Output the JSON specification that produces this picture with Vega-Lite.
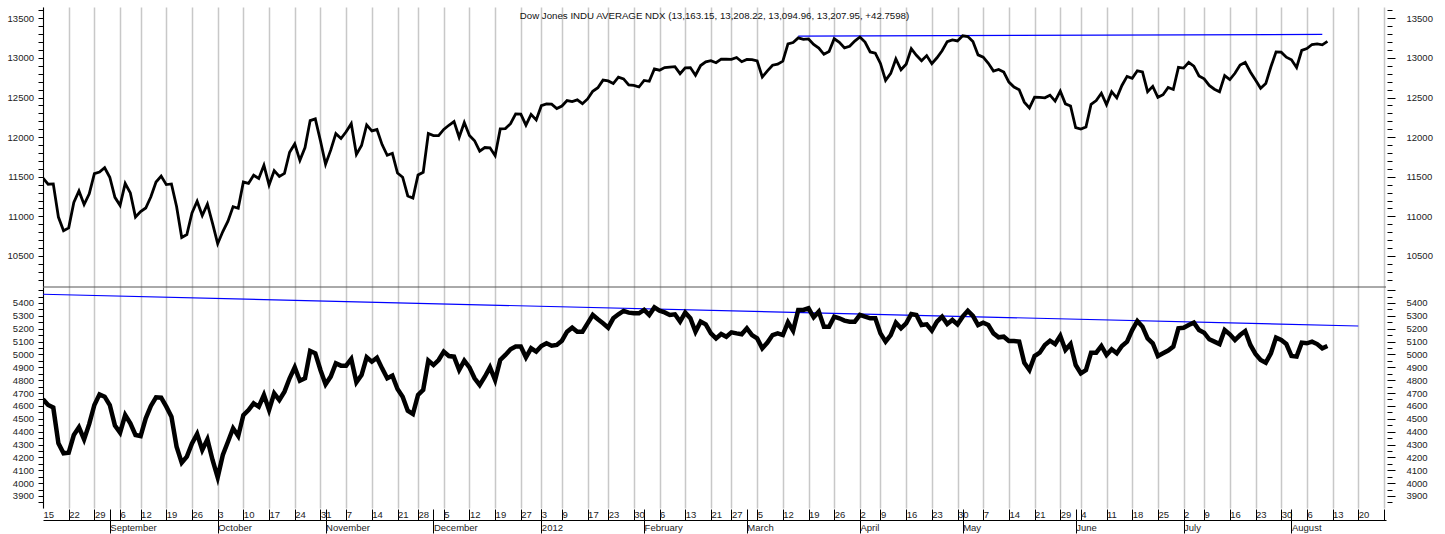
{
"$schema": "https://vega.github.io/schema/vega-lite/v6.json",
"width": 1343, "height": 501,
"autosize": {"type": "none"},
"padding": {"left": 43, "top": 7, "right": 59, "bottom": 26},
"background": "white",
"config": {"view": {"stroke": null}, "font": "Liberation Sans", "axis": {"labelFont": "Liberation Sans", "labelFontSize": 9.5, "labelColor": "#222", "tickColor": "#000", "domainColor": "#000"}},
"title": {"text": "Dow Jones INDU AVERAGE NDX (13,163.15, 13,208.22, 13,094.96, 13,207.95, +42.7598)", "font": "Liberation Sans", "fontSize": 9.7, "fontWeight": "normal", "color": "#111", "anchor": "middle", "frame": "group", "offset": -13, "baseline": "alphabetic", "dy": 10},
"datasets": {
"px": [
{"i":0,"date":"2011-08-15","dow":11483,"djt":4651},{"i":1,"date":"2011-08-16","dow":11406,"djt":4607},{"i":2,"date":"2011-08-17","dow":11410,"djt":4587},{"i":3,"date":"2011-08-18","dow":10991,"djt":4309},{"i":4,"date":"2011-08-19","dow":10818,"djt":4232},
{"i":5,"date":"2011-08-22","dow":10855,"djt":4237},{"i":6,"date":"2011-08-23","dow":11177,"djt":4374},{"i":7,"date":"2011-08-24","dow":11321,"djt":4434},{"i":8,"date":"2011-08-25","dow":11150,"djt":4340},{"i":9,"date":"2011-08-26","dow":11285,"djt":4460},
{"i":10,"date":"2011-08-29","dow":11539,"djt":4607},{"i":11,"date":"2011-08-30","dow":11560,"djt":4690},{"i":12,"date":"2011-08-31","dow":11614,"djt":4672},{"i":13,"date":"2011-09-01","dow":11494,"djt":4607},{"i":14,"date":"2011-09-02","dow":11240,"djt":4447},
{"i":15,"date":"2011-09-06","dow":11139,"djt":4392},{"i":16,"date":"2011-09-07","dow":11415,"djt":4529},{"i":17,"date":"2011-09-08","dow":11296,"djt":4465},{"i":18,"date":"2011-09-09","dow":10992,"djt":4374},
{"i":19,"date":"2011-09-12","dow":11061,"djt":4366},{"i":20,"date":"2011-09-13","dow":11106,"djt":4504},{"i":21,"date":"2011-09-14","dow":11247,"djt":4600},{"i":22,"date":"2011-09-15","dow":11433,"djt":4667},{"i":23,"date":"2011-09-16","dow":11509,"djt":4664},
{"i":24,"date":"2011-09-19","dow":11401,"djt":4594},{"i":25,"date":"2011-09-20","dow":11409,"djt":4517},{"i":26,"date":"2011-09-21","dow":11125,"djt":4283},{"i":27,"date":"2011-09-22","dow":10734,"djt":4159},{"i":28,"date":"2011-09-23","dow":10771,"djt":4206},
{"i":29,"date":"2011-09-26","dow":11044,"djt":4309},{"i":30,"date":"2011-09-27","dow":11191,"djt":4382},{"i":31,"date":"2011-09-28","dow":11011,"djt":4258},{"i":32,"date":"2011-09-29","dow":11154,"djt":4340},{"i":33,"date":"2011-09-30","dow":10913,"djt":4180},
{"i":34,"date":"2011-10-03","dow":10655,"djt":4045},{"i":35,"date":"2011-10-04","dow":10809,"djt":4219},{"i":36,"date":"2011-10-05","dow":10940,"djt":4322},{"i":37,"date":"2011-10-06","dow":11123,"djt":4426},{"i":38,"date":"2011-10-07","dow":11103,"djt":4366},
{"i":39,"date":"2011-10-10","dow":11433,"djt":4529},{"i":40,"date":"2011-10-11","dow":11416,"djt":4568},{"i":41,"date":"2011-10-12","dow":11519,"djt":4620},{"i":42,"date":"2011-10-13","dow":11478,"djt":4594},{"i":43,"date":"2011-10-14","dow":11644,"djt":4685},
{"i":44,"date":"2011-10-17","dow":11397,"djt":4568},{"i":45,"date":"2011-10-18","dow":11577,"djt":4698},{"i":46,"date":"2011-10-19","dow":11505,"djt":4646},{"i":47,"date":"2011-10-20","dow":11542,"djt":4711},{"i":48,"date":"2011-10-21","dow":11809,"djt":4815},
{"i":49,"date":"2011-10-24","dow":11914,"djt":4900},{"i":50,"date":"2011-10-25","dow":11707,"djt":4796},{"i":51,"date":"2011-10-26","dow":11869,"djt":4815},{"i":52,"date":"2011-10-27","dow":12209,"djt":5027},{"i":53,"date":"2011-10-28","dow":12231,"djt":5009},
{"i":54,"date":"2011-10-31","dow":11955,"djt":4879},{"i":55,"date":"2011-11-01","dow":11658,"djt":4768},{"i":56,"date":"2011-11-02","dow":11836,"djt":4828},{"i":57,"date":"2011-11-03","dow":12044,"djt":4931},{"i":58,"date":"2011-11-04","dow":11983,"djt":4913},
{"i":59,"date":"2011-11-07","dow":12068,"djt":4913},{"i":60,"date":"2011-11-08","dow":12170,"djt":4965},{"i":61,"date":"2011-11-09","dow":11781,"djt":4783},{"i":62,"date":"2011-11-10","dow":11894,"djt":4840},{"i":63,"date":"2011-11-11","dow":12154,"djt":4978},
{"i":64,"date":"2011-11-14","dow":12079,"djt":4944},{"i":65,"date":"2011-11-15","dow":12096,"djt":4975},{"i":66,"date":"2011-11-16","dow":11906,"djt":4892},{"i":67,"date":"2011-11-17","dow":11771,"djt":4815},{"i":68,"date":"2011-11-18","dow":11796,"djt":4835},
{"i":69,"date":"2011-11-21","dow":11547,"djt":4732},{"i":70,"date":"2011-11-22","dow":11494,"djt":4672},{"i":71,"date":"2011-11-23","dow":11258,"djt":4563},{"i":72,"date":"2011-11-25","dow":11232,"djt":4537},
{"i":73,"date":"2011-11-28","dow":11523,"djt":4685},{"i":74,"date":"2011-11-29","dow":11556,"djt":4724},{"i":75,"date":"2011-11-30","dow":12046,"djt":4952},{"i":76,"date":"2011-12-01","dow":12020,"djt":4918},{"i":77,"date":"2011-12-02","dow":12019,"djt":4957},
{"i":78,"date":"2011-12-05","dow":12098,"djt":5022},{"i":79,"date":"2011-12-06","dow":12150,"djt":4988},{"i":80,"date":"2011-12-07","dow":12196,"djt":4983},{"i":81,"date":"2011-12-08","dow":11998,"djt":4879},{"i":82,"date":"2011-12-09","dow":12184,"djt":4952},
{"i":83,"date":"2011-12-12","dow":12021,"djt":4900},{"i":84,"date":"2011-12-13","dow":11955,"djt":4815},{"i":85,"date":"2011-12-14","dow":11823,"djt":4763},{"i":86,"date":"2011-12-15","dow":11869,"djt":4827},{"i":87,"date":"2011-12-16","dow":11866,"djt":4900},
{"i":88,"date":"2011-12-19","dow":11766,"djt":4801},{"i":89,"date":"2011-12-20","dow":12104,"djt":4957},{"i":90,"date":"2011-12-21","dow":12108,"djt":4996},{"i":91,"date":"2011-12-22","dow":12170,"djt":5040},{"i":92,"date":"2011-12-23","dow":12294,"djt":5061},
{"i":93,"date":"2011-12-27","dow":12291,"djt":5061},{"i":94,"date":"2011-12-28","dow":12151,"djt":4978},{"i":95,"date":"2011-12-29","dow":12287,"djt":5048},{"i":96,"date":"2011-12-30","dow":12218,"djt":5022},
{"i":97,"date":"2012-01-03","dow":12397,"djt":5066},{"i":98,"date":"2012-01-04","dow":12418,"djt":5087},{"i":99,"date":"2012-01-05","dow":12416,"djt":5068},{"i":100,"date":"2012-01-06","dow":12360,"djt":5074},
{"i":101,"date":"2012-01-09","dow":12393,"djt":5107},{"i":102,"date":"2012-01-10","dow":12462,"djt":5177},{"i":103,"date":"2012-01-11","dow":12449,"djt":5208},{"i":104,"date":"2012-01-12","dow":12471,"djt":5177},{"i":105,"date":"2012-01-13","dow":12422,"djt":5177},
{"i":106,"date":"2012-01-17","dow":12482,"djt":5242},{"i":107,"date":"2012-01-18","dow":12579,"djt":5307},{"i":108,"date":"2012-01-19","dow":12624,"djt":5273},{"i":109,"date":"2012-01-20","dow":12720,"djt":5242},
{"i":110,"date":"2012-01-23","dow":12709,"djt":5208},{"i":111,"date":"2012-01-24","dow":12676,"djt":5281},{"i":112,"date":"2012-01-25","dow":12757,"djt":5312},{"i":113,"date":"2012-01-26","dow":12735,"djt":5338},{"i":114,"date":"2012-01-27","dow":12660,"djt":5325},
{"i":115,"date":"2012-01-30","dow":12654,"djt":5320},{"i":116,"date":"2012-01-31","dow":12633,"djt":5320},{"i":117,"date":"2012-02-01","dow":12716,"djt":5346},{"i":118,"date":"2012-02-02","dow":12705,"djt":5307},{"i":119,"date":"2012-02-03","dow":12862,"djt":5366},
{"i":120,"date":"2012-02-06","dow":12845,"djt":5340},{"i":121,"date":"2012-02-07","dow":12878,"djt":5327},{"i":122,"date":"2012-02-08","dow":12884,"djt":5307},{"i":123,"date":"2012-02-09","dow":12890,"djt":5312},{"i":124,"date":"2012-02-10","dow":12801,"djt":5255},
{"i":125,"date":"2012-02-13","dow":12874,"djt":5325},{"i":126,"date":"2012-02-14","dow":12878,"djt":5281},{"i":127,"date":"2012-02-15","dow":12781,"djt":5177},{"i":128,"date":"2012-02-16","dow":12904,"djt":5255},{"i":129,"date":"2012-02-17","dow":12950,"djt":5234},
{"i":130,"date":"2012-02-21","dow":12966,"djt":5164},{"i":131,"date":"2012-02-22","dow":12939,"djt":5125},{"i":132,"date":"2012-02-23","dow":12985,"djt":5159},{"i":133,"date":"2012-02-24","dow":12983,"djt":5138},
{"i":134,"date":"2012-02-27","dow":12981,"djt":5172},{"i":135,"date":"2012-02-28","dow":13005,"djt":5164},{"i":136,"date":"2012-02-29","dow":12952,"djt":5157},{"i":137,"date":"2012-03-01","dow":12980,"djt":5203},{"i":138,"date":"2012-03-02","dow":12978,"djt":5151},
{"i":139,"date":"2012-03-05","dow":12963,"djt":5125},{"i":140,"date":"2012-03-06","dow":12759,"djt":5048},{"i":141,"date":"2012-03-07","dow":12837,"djt":5092},{"i":142,"date":"2012-03-08","dow":12908,"djt":5151},{"i":143,"date":"2012-03-09","dow":12922,"djt":5164},
{"i":144,"date":"2012-03-12","dow":12960,"djt":5151},{"i":145,"date":"2012-03-13","dow":13178,"djt":5250},{"i":146,"date":"2012-03-14","dow":13194,"djt":5185},{"i":147,"date":"2012-03-15","dow":13253,"djt":5346},{"i":148,"date":"2012-03-16","dow":13233,"djt":5346},
{"i":149,"date":"2012-03-19","dow":13239,"djt":5359},{"i":150,"date":"2012-03-20","dow":13170,"djt":5289},{"i":151,"date":"2012-03-21","dow":13125,"djt":5333},{"i":152,"date":"2012-03-22","dow":13046,"djt":5216},{"i":153,"date":"2012-03-23","dow":13081,"djt":5216},
{"i":154,"date":"2012-03-26","dow":13242,"djt":5294},{"i":155,"date":"2012-03-27","dow":13198,"djt":5281},{"i":156,"date":"2012-03-28","dow":13126,"djt":5263},{"i":157,"date":"2012-03-29","dow":13146,"djt":5255},{"i":158,"date":"2012-03-30","dow":13212,"djt":5255},
{"i":159,"date":"2012-04-02","dow":13264,"djt":5307},{"i":160,"date":"2012-04-03","dow":13200,"djt":5294},{"i":161,"date":"2012-04-04","dow":13075,"djt":5281},{"i":162,"date":"2012-04-05","dow":13060,"djt":5281},
{"i":163,"date":"2012-04-09","dow":12930,"djt":5164},{"i":164,"date":"2012-04-10","dow":12716,"djt":5100},{"i":165,"date":"2012-04-11","dow":12805,"djt":5151},{"i":166,"date":"2012-04-12","dow":12987,"djt":5247},{"i":167,"date":"2012-04-13","dow":12850,"djt":5203},
{"i":168,"date":"2012-04-16","dow":12921,"djt":5242},{"i":169,"date":"2012-04-17","dow":13116,"djt":5315},{"i":170,"date":"2012-04-18","dow":13033,"djt":5307},{"i":171,"date":"2012-04-19","dow":12964,"djt":5229},{"i":172,"date":"2012-04-20","dow":13029,"djt":5234},
{"i":173,"date":"2012-04-23","dow":12927,"djt":5185},{"i":174,"date":"2012-04-24","dow":13002,"djt":5255},{"i":175,"date":"2012-04-25","dow":13091,"djt":5294},{"i":176,"date":"2012-04-26","dow":13205,"djt":5237},{"i":177,"date":"2012-04-27","dow":13228,"djt":5268},
{"i":178,"date":"2012-04-30","dow":13214,"djt":5234},{"i":179,"date":"2012-05-01","dow":13279,"djt":5294},{"i":180,"date":"2012-05-02","dow":13269,"djt":5340},{"i":181,"date":"2012-05-03","dow":13207,"djt":5299},{"i":182,"date":"2012-05-04","dow":13038,"djt":5229},
{"i":183,"date":"2012-05-07","dow":13009,"djt":5247},{"i":184,"date":"2012-05-08","dow":12932,"djt":5229},{"i":185,"date":"2012-05-09","dow":12835,"djt":5164},{"i":186,"date":"2012-05-10","dow":12855,"djt":5133},{"i":187,"date":"2012-05-11","dow":12821,"djt":5138},
{"i":188,"date":"2012-05-14","dow":12695,"djt":5105},{"i":189,"date":"2012-05-15","dow":12632,"djt":5105},{"i":190,"date":"2012-05-16","dow":12599,"djt":5100},{"i":191,"date":"2012-05-17","dow":12442,"djt":4936},{"i":192,"date":"2012-05-18","dow":12369,"djt":4879},
{"i":193,"date":"2012-05-21","dow":12504,"djt":4988},{"i":194,"date":"2012-05-22","dow":12503,"djt":5014},{"i":195,"date":"2012-05-23","dow":12496,"djt":5074},{"i":196,"date":"2012-05-24","dow":12530,"djt":5107},{"i":197,"date":"2012-05-25","dow":12455,"djt":5081},
{"i":198,"date":"2012-05-29","dow":12581,"djt":5144},{"i":199,"date":"2012-05-30","dow":12420,"djt":5035},{"i":200,"date":"2012-05-31","dow":12393,"djt":5081},{"i":201,"date":"2012-06-01","dow":12119,"djt":4918},
{"i":202,"date":"2012-06-04","dow":12101,"djt":4853},{"i":203,"date":"2012-06-05","dow":12128,"djt":4879},{"i":204,"date":"2012-06-06","dow":12415,"djt":5014},{"i":205,"date":"2012-06-07","dow":12461,"djt":5014},{"i":206,"date":"2012-06-08","dow":12554,"djt":5066},
{"i":207,"date":"2012-06-11","dow":12411,"djt":4996},{"i":208,"date":"2012-06-12","dow":12574,"djt":5040},{"i":209,"date":"2012-06-13","dow":12496,"djt":5009},{"i":210,"date":"2012-06-14","dow":12652,"djt":5066},{"i":211,"date":"2012-06-15","dow":12767,"djt":5100},
{"i":212,"date":"2012-06-18","dow":12742,"djt":5190},{"i":213,"date":"2012-06-19","dow":12837,"djt":5260},{"i":214,"date":"2012-06-20","dow":12824,"djt":5216},{"i":215,"date":"2012-06-21","dow":12574,"djt":5125},{"i":216,"date":"2012-06-22","dow":12641,"djt":5087},
{"i":217,"date":"2012-06-25","dow":12503,"djt":4988},{"i":218,"date":"2012-06-26","dow":12535,"djt":5009},{"i":219,"date":"2012-06-27","dow":12627,"djt":5030},{"i":220,"date":"2012-06-28","dow":12602,"djt":5061},{"i":221,"date":"2012-06-29","dow":12880,"djt":5203},
{"i":222,"date":"2012-07-02","dow":12871,"djt":5208},{"i":223,"date":"2012-07-03","dow":12944,"djt":5229},{"i":224,"date":"2012-07-05","dow":12897,"djt":5247},{"i":225,"date":"2012-07-06","dow":12772,"djt":5190},
{"i":226,"date":"2012-07-09","dow":12736,"djt":5169},{"i":227,"date":"2012-07-10","dow":12653,"djt":5118},{"i":228,"date":"2012-07-11","dow":12605,"djt":5100},{"i":229,"date":"2012-07-12","dow":12573,"djt":5081},{"i":230,"date":"2012-07-13","dow":12777,"djt":5190},
{"i":231,"date":"2012-07-16","dow":12727,"djt":5157},{"i":232,"date":"2012-07-17","dow":12806,"djt":5112},{"i":233,"date":"2012-07-18","dow":12909,"djt":5151},{"i":234,"date":"2012-07-19","dow":12943,"djt":5182},{"i":235,"date":"2012-07-20","dow":12823,"djt":5074},
{"i":236,"date":"2012-07-23","dow":12721,"djt":5004},{"i":237,"date":"2012-07-24","dow":12617,"djt":4957},{"i":238,"date":"2012-07-25","dow":12676,"djt":4936},{"i":239,"date":"2012-07-26","dow":12888,"djt":5009},{"i":240,"date":"2012-07-27","dow":13076,"djt":5131},
{"i":241,"date":"2012-07-30","dow":13073,"djt":5112},{"i":242,"date":"2012-07-31","dow":13009,"djt":5081},{"i":243,"date":"2012-08-01","dow":12976,"djt":4988},{"i":244,"date":"2012-08-02","dow":12879,"djt":4983},{"i":245,"date":"2012-08-03","dow":13096,"djt":5092},
{"i":246,"date":"2012-08-06","dow":13118,"djt":5087},{"i":247,"date":"2012-08-07","dow":13169,"djt":5100},{"i":248,"date":"2012-08-08","dow":13176,"djt":5081},{"i":249,"date":"2012-08-09","dow":13165,"djt":5048},{"i":250,"date":"2012-08-10","dow":13208,"djt":5066}
],
"topTrend": [{"i":147,"v":13275},{"i":249,"v":13297}],
"botTrend": [{"i":0,"v":5468},{"i":256,"v":5221}],
"one": [{"divider":10108.6}]
},
"data": {"name": "px"},
"resolve": {"scale": {"y": "independent"}, "axis": {"x": "independent", "y": "independent"}},
"layer": [
{
"data": {"name": "one"},
"mark": {"type": "rule", "color": "#555", "strokeWidth": 1},
"encoding": {
"y": {"field": "divider", "type": "quantitative", "scale": {"domain": [10108.6, 13642.6], "range": [280, 0], "nice": false, "zero": false}, "axis": null}
}
},
{
"data": {"name": "topTrend"},
"mark": {"type": "line", "color": "#0000ff", "strokeWidth": 1.2, "clip": true},
"encoding": {
"x": {"field": "i", "type": "quantitative", "scale": {"domain": [0, 261.4], "nice": false, "zero": false},
"axis": {"orient": "bottom", "title": null, "offset": 12, "domain": true, "domainColor": "#000", "domainWidth": 1, "ticks": false, "labels": false, "grid": false}},
"y": {"field": "v", "type": "quantitative", "scale": {"domain": [10108.6, 13642.6], "range": [280, 0], "nice": false, "zero": false},
"axis": {"orient": "right", "title": null, "offset": 1, "values": [10200,10300,10400,10500,10600,10700,10800,10900,11000,11100,11200,11300,11400,11500,11600,11700,11800,11900,12000,12100,12200,12300,12400,12500,12600,12700,12800,12900,13000,13100,13200,13300,13400,13500,13600], "format": "d", "labelExpr": "datum.value % 500 == 0 && datum.value <= 13500 ? datum.label : ''", "domain": false, "grid": false, "tickSize": {"condition": {"test": "datum.value % 500 == 0", "value": 8}, "value": 5}, "labelPadding": 11, "labelOverlap": false, "labelFlush": false}}
}
},
{
"data": {"name": "botTrend"},
"mark": {"type": "line", "color": "#0000ff", "strokeWidth": 1.2, "clip": true},
"encoding": {
"x": {"field": "i", "type": "quantitative", "scale": {"domain": [0, 261.4], "nice": false, "zero": false},
"axis": {"orient": "bottom", "title": null, "offset": 1, "values": [0,5,10,15,19,24,29,34,39,44,49,54,59,64,69,73,78,83,88,93,97,101,106,110,115,120,125,130,134,139,144,149,154,159,163,168,173,178,183,188,193,198,202,207,212,217,222,226,231,236,241,246,251,256,261],
"labelExpr": "['15','22','29','6','12','19','26','3','10','17','24','31','7','14','21','28','5','12','19','27','3','9','17','23','30','6','13','21','27','5','12','19','26','2','9','16','23','30','7','14','21','29','4','11','18','25','2','9','16','23','30','6','13','20',''][indexof([0,5,10,15,19,24,29,34,39,44,49,54,59,64,69,73,78,83,88,93,97,101,106,110,115,120,125,130,134,139,144,149,154,159,163,168,173,178,183,188,193,198,202,207,212,217,222,226,231,236,241,246,251,256,261], datum.value)]",
"grid": true, "gridColor": "#c8c8c8", "gridWidth": 1.5, "domain": false, "ticks": true, "tickSize": 11, "tickOpacity": {"condition": {"test": "datum.value == 0", "value": 0}, "value": 1},
"labelAlign": "left", "labelDx": 2, "labelBaseline": "middle", "labelPadding": -6, "labelFlush": false, "labelOverlap": false, "labelBound": false}},
"y": {"field": "v", "type": "quantitative", "scale": {"domain": [3806.7, 7700.4], "nice": false, "zero": false},
"axis": {"orient": "right", "title": null, "offset": 1, "values": [3850,3900,3950,4000,4050,4100,4150,4200,4250,4300,4350,4400,4450,4500,4550,4600,4650,4700,4750,4800,4850,4900,4950,5000,5050,5100,5150,5200,5250,5300,5350,5400,5450,5500], "format": "d", "labelExpr": "datum.value % 100 == 0 && datum.value <= 5400 ? datum.label : ''", "domain": false, "grid": false, "tickSize": {"condition": {"test": "datum.value % 100 == 0", "value": 8}, "value": 5}, "labelPadding": 11, "labelOverlap": false, "labelFlush": false}}
}
},
{
"mark": {"type": "line", "color": "#000", "strokeWidth": 2.8, "clip": true},
"encoding": {
"x": {"field": "i", "type": "quantitative", "scale": {"domain": [0, 261.4], "nice": false, "zero": false}, "axis": null},
"y": {"field": "dow", "type": "quantitative", "scale": {"domain": [10108.6, 13642.6], "range": [280, 0], "nice": false, "zero": false},
"axis": {"orient": "left", "title": null, "values": [10200,10300,10400,10500,10600,10700,10800,10900,11000,11100,11200,11300,11400,11500,11600,11700,11800,11900,12000,12100,12200,12300,12400,12500,12600,12700,12800,12900,13000,13100,13200,13300,13400,13500,13600], "format": "d", "labelExpr": "datum.value % 500 == 0 && datum.value <= 13500 ? datum.label : ''", "domain": true, "domainColor": "#000", "grid": false, "tickSize": 5, "labelPadding": 4.5, "labelOverlap": false, "labelFlush": false}}
}
},
{
"mark": {"type": "line", "color": "#000", "strokeWidth": 4.5, "clip": true},
"encoding": {
"x": {"field": "i", "type": "quantitative", "scale": {"domain": [0, 261.4], "nice": false, "zero": false},
"axis": {"orient": "bottom", "title": null, "offset": 1, "values": [13,34,55,76,97,117,137,159,179,201,222,243],
"labelExpr": "['September','October','November','December','2012','February','March','April','May','June','July','August'][indexof([13,34,55,76,97,117,137,159,179,201,222,243], datum.value)]",
"grid": false, "domain": false, "ticks": true, "tickSize": 24, "labelAlign": "left", "labelDx": 2, "labelBaseline": "middle", "labelPadding": -6, "labelFlush": false, "labelOverlap": false}},
"y": {"field": "djt", "type": "quantitative", "scale": {"domain": [3806.7, 5524.3], "range": [501, 280], "nice": false, "zero": false},
"axis": {"orient": "left", "title": null, "values": [3850,3900,3950,4000,4050,4100,4150,4200,4250,4300,4350,4400,4450,4500,4550,4600,4650,4700,4750,4800,4850,4900,4950,5000,5050,5100,5150,5200,5250,5300,5350,5400,5450,5500], "format": "d", "labelExpr": "datum.value % 100 == 0 && datum.value <= 5400 ? datum.label : ''", "domain": true, "domainColor": "#000", "grid": false, "tickSize": 5, "labelPadding": 4.5, "labelOverlap": false, "labelFlush": false}}
}
}
]
}
